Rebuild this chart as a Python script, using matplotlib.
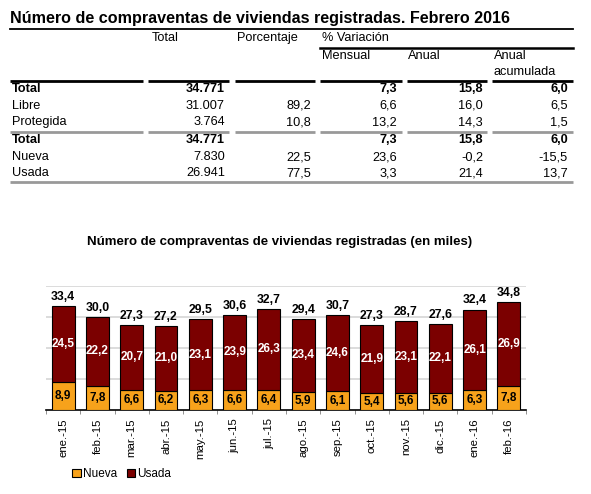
import matplotlib
matplotlib.use("Agg")
import matplotlib.pyplot as plt
import numpy as np

plt.rcParams['font.family'] = ['Liberation Sans', 'DejaVu Sans']

# table data
titulo = "Número de compraventas de viviendas registradas. Febrero 2016"
filas = ["Total", "Libre", "Protegida", "Total", "Nueva", "Usada"]
col_total = ["34.771", "31.007", "3.764", "34.771", "7.830", "26.941"]
col_pct = ["", "89,2", "10,8", "", "22,5", "77,5"]
col_mensual = ["7,3", "6,6", "13,2", "7,3", "23,6", "3,3"]
col_anual = ["15,8", "16,0", "14,3", "15,8", "-0,2", "21,4"]
col_acum = ["6,0", "6,5", "1,5", "6,0", "-15,5", "13,7"]
filas_negrita = [0, 3]

# chart data (miles)
meses = ["ene.-15", "feb.-15", "mar.-15", "abr.-15", "may.-15", "jun.-15", "jul.-15",
         "ago.-15", "sep.-15", "oct.-15", "nov.-15", "dic.-15", "ene.-16", "feb.-16"]
nueva = [8.9, 7.8, 6.6, 6.2, 6.3, 6.6, 6.4, 5.9, 6.1, 5.4, 5.6, 5.6, 6.3, 7.8]
usada = [24.5, 22.2, 20.7, 21.0, 23.1, 23.9, 26.3, 23.4, 24.6, 21.9, 23.1, 22.1, 26.1, 26.9]
totales = [33.4, 30.0, 27.3, 27.2, 29.5, 30.6, 32.7, 29.4, 30.7, 27.3, 28.7, 27.6, 32.4, 34.8]

c_nueva = "#F7A21B"
c_usada = "#7B0000"

fig = plt.figure(figsize=(5.91, 4.94), dpi=100)

# background axes in pixel coords for the table
bg = fig.add_axes([0, 0, 1, 1])
bg.set_xlim(0, 591)
bg.set_ylim(494, 0)
bg.axis("off")

bg.text(10, 18, titulo, fontsize=11.6, fontweight="bold", va="center", ha="left")
bg.plot([10, 573], [29, 29], color="black", lw=1.3)

fs = 9.2
bg.text(152, 38, "Total", fontsize=fs, va="center")
bg.text(237, 38, "Porcentaje", fontsize=fs, va="center")
bg.text(322, 38, "% Variación", fontsize=fs, va="center")
bg.plot([320, 573], [48, 48], color="black", lw=1.8)
bg.text(322, 56, "Mensual", fontsize=fs, va="center")
bg.text(408, 56, "Anual", fontsize=fs, va="center")
bg.text(494, 56, "Anual", fontsize=fs, va="center")
bg.text(494, 72, "acumulada", fontsize=fs, va="center")

segs = [(10, 143), (148, 229), (235, 315), (320, 402), (407, 487), (492, 573)]
for a, b in segs:
    bg.plot([a, b], [81.5, 81.5], color="black", lw=2.0, solid_capstyle="butt")
    bg.plot([a, b], [132, 132], color="#999999", lw=2.0, solid_capstyle="butt")
bg.plot([10, 573], [182, 182], color="#999999", lw=2.0, solid_capstyle="butt")

ys = [89.5, 105.5, 122, 140, 157, 173]
derechas = [225, 311, 397, 483, 568]
for i in range(len(filas)):
    w = "bold" if i in filas_negrita else "normal"
    bg.text(12, ys[i], filas[i], fontsize=fs, fontweight=w, va="center")
    vals = [col_total[i], col_pct[i], col_mensual[i], col_anual[i], col_acum[i]]
    for x, v in zip(derechas, vals):
        bg.text(x, ys[i], v, fontsize=fs, fontweight=w, va="center", ha="right")

bg.text(280, 242, "Número de compraventas de viviendas registradas (en miles)",
        fontsize=9.5, fontweight="bold", ha="center", va="center")

# bar chart
ax = fig.add_axes([46 / 591, 84 / 494, 480 / 591, 124 / 494])
x = np.arange(len(meses))
ax.bar(x, nueva, width=0.67, color=c_nueva, edgecolor="black", linewidth=0.8, label="Nueva", zorder=3)
ax.bar(x, usada, width=0.67, bottom=nueva, color=c_usada, edgecolor="black", linewidth=0.8, label="Usada", zorder=3)

for i in range(len(meses)):
    ax.text(x[i], nueva[i] / 2, f"{nueva[i]:.1f}".replace(".", ","), ha="center", va="center",
            fontsize=8.5, fontweight="bold", color="black", zorder=4)
    ax.text(x[i], nueva[i] + usada[i] / 2, f"{usada[i]:.1f}".replace(".", ","), ha="center", va="center",
            fontsize=8.5, fontweight="bold", color="white", zorder=4)
    ax.text(x[i], nueva[i] + usada[i] + 1.0, f"{totales[i]:.1f}".replace(".", ","), ha="center", va="bottom",
            fontsize=8.8, fontweight="bold", color="black", zorder=4)

ax.set_xlim(-0.5, len(meses) - 0.5)
ax.set_ylim(0, 40)
ax.set_yticks([10, 20, 30, 40])
ax.yaxis.grid(True, color="#d9d9d9", lw=1.3, zorder=0)
ax.tick_params(axis="y", length=0, labelleft=False)
for s in ["top", "right", "left"]:
    ax.spines[s].set_visible(False)
ax.spines["bottom"].set_linewidth(1.2)

ax.set_xticks(x)
ax.set_xticklabels(meses, rotation=90, fontsize=8.2)
ax.tick_params(axis="x", length=0, pad=6)
ax.set_xticks(np.arange(-0.5, len(meses)), minor=True)
ax.tick_params(axis="x", which="minor", length=3, color="#808080")

ax.legend(loc="upper left", bbox_to_anchor=(0.045, -0.43), ncol=2, frameon=False, fontsize=8.5,
          handlelength=0.7, handleheight=0.7, handletextpad=0.2, columnspacing=0.8, borderaxespad=0)

fig.savefig("out.png", dpi=100)
